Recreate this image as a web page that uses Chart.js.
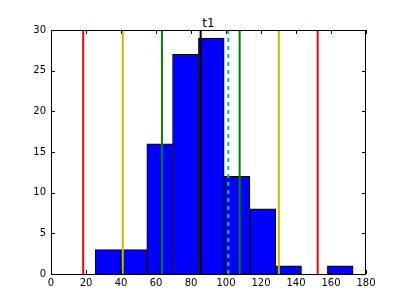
<!DOCTYPE html>
<html>
<head>
<meta charset="utf-8">
<script src="https://cdn.jsdelivr.net/npm/chart.js@4/dist/chart.umd.min.js"></script>
<style>
  html, body { margin: 0; padding: 0; background: #fff; }
  #wrap { width: 407px; height: 305px; }
</style>
</head>
<body>
<div id="wrap"><canvas id="chart" width="407" height="305"></canvas></div>
<script>
  // histogram bins (centres) and counts
  const binCenters = [32.6, 47.3, 62.1, 76.8, 91.6, 106.3, 121.1, 135.8, 150.6, 165.3];
  const counts = [3, 3, 16, 27, 29, 12, 8, 1, 0, 1];

  // vertical marker lines
  const markerValues = [18.4, 41.0, 63.4, 85.5, 101.3, 107.8, 130.2, 152.4];
  const markerColors = ['#ff0000', '#bfbf00', '#008000', '#000000', '#00bfbf', '#008000', '#bfbf00', '#ff0000'];
  const markerDashed = [false, false, false, false, true, false, false, false];

  const xTicks = [0, 20, 40, 60, 80, 100, 120, 140, 160, 180];
  const yTicks = [0, 5, 10, 15, 20, 25, 30];

  const font = { family: 'DejaVu Sans', size: 10 };

  const markerSets = markerValues.map((v, i) => ({
    type: 'line',
    data: [{ x: v, y: 0 }, { x: v, y: 30 }],
    borderColor: markerColors[i],
    borderWidth: 2,
    borderDash: markerDashed[i] ? [4, 4] : [],
    pointRadius: 0,
    order: 0
  }));

  const frame = {
    id: 'frame',
    afterDraw(chart) {
      const { ctx, chartArea: a, scales } = chart;
      ctx.save();
      ctx.strokeStyle = '#000';
      ctx.lineWidth = 1;
      ctx.strokeRect(a.left + 0.5, a.top + 0.5, a.right - a.left - 1, a.bottom - a.top);
      ctx.beginPath();
      xTicks.forEach((t) => {
        const px = Math.round(scales.x.getPixelForValue(t)) + 0.5;
        ctx.moveTo(px, a.bottom); ctx.lineTo(px, a.bottom - 4);
        ctx.moveTo(px, a.top); ctx.lineTo(px, a.top + 4);
      });
      yTicks.forEach((t) => {
        const py = Math.round(scales.y.getPixelForValue(t)) + 0.5;
        ctx.moveTo(a.left, py); ctx.lineTo(a.left + 4, py);
        ctx.moveTo(a.right, py); ctx.lineTo(a.right - 4, py);
      });
      ctx.stroke();
      ctx.fillStyle = '#000';
      ctx.font = '12px "DejaVu Sans"';
      ctx.textAlign = 'center';
      ctx.textBaseline = 'alphabetic';
      ctx.fillText('t1', (a.left + a.right) / 2, a.top - 3);
      ctx.restore();
    }
  };

  new Chart(document.getElementById('chart'), {
    type: 'bar',
    data: {
      datasets: [{
        type: 'bar',
        data: binCenters.map((c, i) => ({ x: c, y: counts[i] })),
        backgroundColor: '#0000ff',
        borderColor: '#000000',
        borderWidth: 1,
        borderSkipped: false,
        barPercentage: 1,
        categoryPercentage: 1,
        order: 10
      }, ...markerSets]
    },
    options: {
      responsive: false,
      animation: false,
      layout: { padding: { left: 0, top: 30, right: 41, bottom: 0 } },
      plugins: { legend: { display: false }, tooltip: { enabled: false }, title: { display: false } },
      scales: {
        x: {
          type: 'linear',
          min: 0,
          max: 180,
          offset: false,
          afterFit: (s) => { s.height = 31; },
          afterBuildTicks: (s) => { s.ticks = xTicks.map((v) => ({ value: v })); },
          grid: { display: false, drawTicks: false, offset: false },
          border: { display: false },
          ticks: { font, color: '#000', padding: 3, maxRotation: 0, autoSkip: false }
        },
        y: {
          type: 'linear',
          min: 0,
          max: 30,
          afterFit: (s) => { s.width = 51; },
          afterBuildTicks: (s) => { s.ticks = yTicks.map((v) => ({ value: v })); },
          grid: { display: false, drawTicks: false },
          border: { display: false },
          ticks: { font, color: '#000', padding: 5, autoSkip: false }
        }
      }
    },
    plugins: [frame]
  });
</script>
</body>
</html>
